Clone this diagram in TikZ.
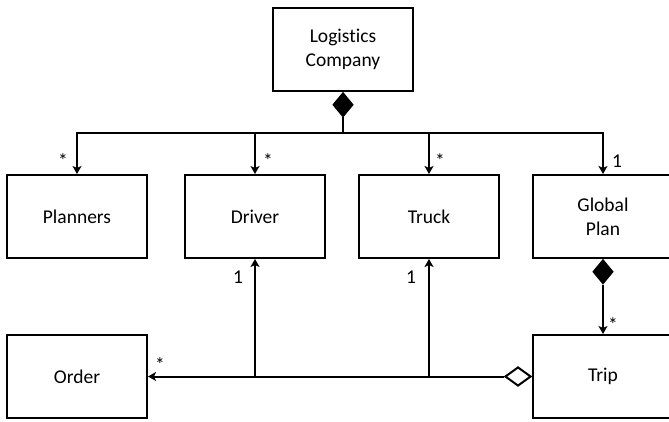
\documentclass[tikz,border=0pt]{standalone}
\usepackage{fontspec}
\setmainfont{Carlito}[Ligatures={NoCommon,NoRare,NoContextual},RawFeature={-liga;-clig;-dlig}]
\usetikzlibrary{arrows.meta,shapes.geometric}
\begin{document}
\begin{tikzpicture}[x={(1pt,0)},y={(0,-1pt)},
  box/.style={draw,line width=2pt,minimum width=140pt,minimum height=83pt,inner sep=0pt,align=center,font=\fontsize{19.5}{24}\selectfont},
  lbl/.style={anchor=base,inner sep=0pt,font=\fontsize{19.5}{24}\selectfont},
  conn/.style={line width=2pt},
  arr/.style={conn,-{Stealth[length=8pt,width=9pt,inset=2pt]}},
  fdiam/.style={diamond,draw,fill=black,line width=1.5pt,inner sep=0pt,minimum width=20pt,minimum height=24pt},
  odiam/.style={diamond,draw,fill=white,line width=2pt,inner sep=0pt,minimum width=26pt,minimum height=19pt}]
\useasboundingbox (0,0) rectangle (669,422);
\node[box] (lc) at (343,49.5) {Logistics\\Company};
\node[box] (planners) at (77,216.5) {Planners};
\node[box] (driver) at (255,216.5) {Driver};
\node[box] (truck) at (429,216.5) {Truck};
\node[box] (gplan) at (603,216.5) {Global\\Plan};
\node[box] (order) at (77,376.5) {Order};
\node[box] (trip) at (603,376.5) {Trip};
\node[fdiam,anchor=north] (d1) at (lc.south) {};
\node[fdiam,anchor=north] (d2) at (gplan.south) {};
\node[odiam,anchor=east] (d3) at (trip.west) {};
\coordinate (j0) at (343,133);
\draw[conn] (d1.south) -- (j0);
\draw[arr] (j0) -| (planners.north);
\draw[arr] (j0) -| (driver.north);
\draw[arr] (j0) -| (truck.north);
\draw[arr] (j0) -| (gplan.north);
\draw[arr] (d2.south) -- (trip.north);
\draw[arr] (d3.west) -- (order.east);
\draw[arr] (driver.south |- d3.west) -- (driver.south);
\draw[arr] (truck.south |- d3.west) -- (truck.south);
\node[lbl] (s1) at (63,168) {*};
\node[lbl] (s2) at (268,168) {*};
\node[lbl] (s3) at (440,168) {*};
\node[lbl] (o1) at (617,168) {1};
\node[lbl] (o2) at (238,283) {1};
\node[lbl] (o3) at (411,283) {1};
\node[lbl] (s4) at (160,371) {*};
\node[lbl] (s5) at (613,331) {*};
\end{tikzpicture}
\end{document}
